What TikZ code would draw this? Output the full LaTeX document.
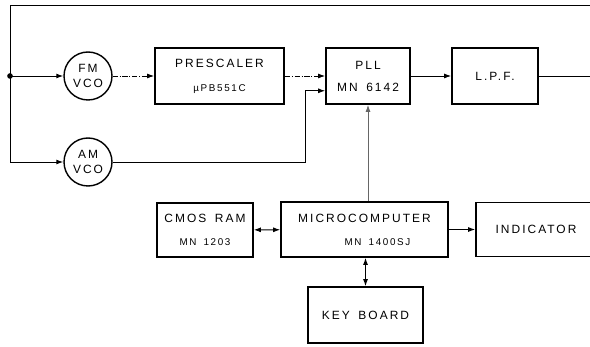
\documentclass[tikz,border=0pt]{standalone}
\usepackage{fontspec}
\setmainfont{Liberation Sans}[LetterSpace=17, WordSpace=1.6]
\usetikzlibrary{arrows.meta}

\newcommand\pnum{\fontsize{5.6}{6.5}\selectfont}

\tikzset{
  block/.style={draw, line width=0.9pt, minimum height=1.12cm, align=center, inner sep=1pt},
  vco/.style={draw, circle, line width=0.8pt, minimum size=0.96cm, inner sep=0pt, align=center},
  wire/.style={line width=0.55pt},
  sig/.style={wire, -{Latex[length=4pt,width=2.8pt]}},
  bus/.style={wire, {Latex[length=4pt,width=2.8pt]}-{Latex[length=4pt,width=2.8pt]}}
}

\begin{document}
\begin{tikzpicture}[x=0.02cm, y=-0.02cm, font=\fontsize{6.8}{8}\selectfont]
    \clip (0,0) rectangle (590,347);

    % oscillators
    \node[vco] (fmvco) at (88,76) {FM\\[0.5pt]VCO};
    \node[vco] (amvco) at (88,162) {AM\\[0.5pt]VCO};

    % synthesizer chain
    \node[block, minimum width=2.58cm] (presc) at (219.5,76) {PRESCALER\\[5.5pt]{\pnum µPB551C}};
    \node[block, minimum width=1.68cm] (pll) at (368,76) {PLL\\[4.5pt]MN 6142};
    \node[block, minimum width=1.72cm] (lpf) at (495,76) {L.P.F.};

    % control part
    \node[block, minimum width=1.92cm, minimum height=1.08cm] (ram) at (205,230) {CMOS RAM\\[5pt]{\pnum MN 1203}};
    \node[block, minimum width=3.34cm, minimum height=1.1cm] (micro) at (364.5,229.5) {MICROCOMPUTER\\[5pt]\hspace*{0.52cm}{\pnum MN 1400SJ}};
    \node[block, minimum width=2.4cm, minimum height=1.08cm] (ind) at (536,229.5) {INDICATOR};
    \node[block, minimum width=2.3cm] (kbd) at (365.5,315) {KEY BOARD};

    % feedback loop
    \coordinate (tl) at (10,5);
    \coordinate (tr) at (590,5);
    \coordinate (split) at (10,76);
    \coordinate (bl) at (10,162);
    \coordinate (out) at (590,76);
    \coordinate (bend) at (305,162);
    \draw[wire] (tr) -- (tl) -- (bl);
    \fill (split) circle (1.6pt);
    \draw[sig] (split) -- (fmvco);
    \draw[sig] (bl) -- (amvco);

    \draw[sig, densely dash dot] (fmvco) -- (presc);
    \draw[sig, densely dash dot] (presc) -- (pll);
    \draw[sig] (amvco) -- (bend) |- ([yshift=0.28cm]pll.south west);
    \draw[sig] (pll) -- (lpf);
    \draw[wire] (lpf) -- (out);

    % buses
    \draw[sig, black!60] (pll.south |- micro.north) -- (pll.south);
    \draw[bus] (ram) -- (micro);
    \draw[sig] (micro) -- (ind);
    \draw[bus] (micro.south -| kbd.north) -- (kbd);
\end{tikzpicture}
\end{document}
